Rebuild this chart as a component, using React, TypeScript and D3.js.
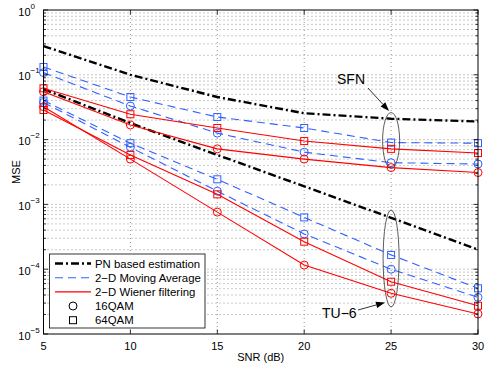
import React from 'react';
import * as d3 from 'd3';

const snr = [5, 10, 15, 20, 25, 30];
const xTicks = [5, 10, 15, 20, 25, 30];
const yDecades = [-5, -4, -3, -2, -1, 0];

const pnSFN = [0.278, 0.10, 0.0454, 0.0255, 0.021, 0.019];
const pnTU = [0.06, 0.018, 0.0058, 0.0019, 0.00062, 0.0002];
const maSFN16 = [0.108, 0.033, 0.0126, 0.0064, 0.0044, 0.0042];
const maSFN64 = [0.132, 0.0454, 0.0223, 0.0151, 0.009, 0.0088];
const wfSFN16 = [0.0548, 0.0168, 0.0072, 0.005, 0.0037, 0.0031];
const wfSFN64 = [0.0619, 0.0246, 0.0151, 0.0095, 0.0072, 0.0062];
const maTU16 = [0.0374, 0.0076, 0.0016, 0.00035, 0.0001, 0.0000368];
const maTU64 = [0.040, 0.0088, 0.00244, 0.00063, 0.000166, 0.0000507];
const wfTU16 = [0.0322, 0.005, 0.00076, 0.000116, 0.0000425, 0.0000204];
const wfTU64 = [0.0286, 0.0058, 0.00143, 0.000266, 0.0000641, 0.0000273];

const legendLabels = ['PN based estimation', '2\u2212D Moving Average', '2\u2212D Wiener filtering', '16QAM', '64QAM'];

const RED = '#ff0000';
const BLUE = '#3060ff';

const L = 43.5, R = 478, T = 10, B = 334;
const x = d3.scaleLinear().domain([5, 30]).range([L, R]);
const y = d3.scaleLog().domain([1e-5, 1]).range([B, T]);

type Series = { v: number[]; color: string; dash?: string; width: number; marker?: 'o' | 's' };
const series: Series[] = [
  { v: pnSFN, color: '#000', dash: '8,3,2,3', width: 2.4 },
  { v: pnTU, color: '#000', dash: '8,3,2,3', width: 2.4 },
  { v: maSFN64, color: BLUE, dash: '8,5', width: 1.1, marker: 's' },
  { v: maSFN16, color: BLUE, dash: '8,5', width: 1.1, marker: 'o' },
  { v: maTU64, color: BLUE, dash: '8,5', width: 1.1, marker: 's' },
  { v: maTU16, color: BLUE, dash: '8,5', width: 1.1, marker: 'o' },
  { v: wfSFN64, color: RED, width: 1.1, marker: 's' },
  { v: wfSFN16, color: RED, width: 1.1, marker: 'o' },
  { v: wfTU64, color: RED, width: 1.1, marker: 's' },
  { v: wfTU16, color: RED, width: 1.1, marker: 'o' },
];

function Marker({ cx, cy, kind, color }: { cx: number; cy: number; kind: 'o' | 's'; color: string }) {
  if (kind === 'o') return <circle cx={cx} cy={cy} r={4} fill="none" stroke={color} strokeWidth={1} />;
  return <rect x={cx - 3.5} y={cy - 3.5} width={7} height={7} fill="none" stroke={color} strokeWidth={1} />;
}

function Arrow({ x1, y1, x2, y2 }: { x1: number; y1: number; x2: number; y2: number }) {
  const ang = Math.atan2(y2 - y1, x2 - x1);
  const len = 9, w = 3.2;
  const bx = x2 - len * Math.cos(ang), by = y2 - len * Math.sin(ang);
  const px = -Math.sin(ang) * w, py = Math.cos(ang) * w;
  return (
    <g>
      <line x1={x1} y1={y1} x2={bx} y2={by} stroke="#000" strokeWidth={0.8} />
      <polygon points={`${x2},${y2} ${bx + px},${by + py} ${bx - px},${by - py}`} fill="#000" />
    </g>
  );
}

export default function App() {
  const line = d3.line<number>().x((_, i) => x(snr[i])).y((d) => y(d));
  const minor: number[] = [];
  const major: number[] = [];
  yDecades.forEach((e) => {
    major.push(Math.pow(10, e));
    if (e < 0) for (let k = 2; k <= 9; k++) minor.push(k * Math.pow(10, e));
  });
  const font = "'Liberation Sans', Arial, Helvetica, sans-serif";
  const legRows = [263.5, 277.7, 291.9, 306, 320.2];
  return (
    <svg width={485} height={365} style={{ position: 'fixed', left: 0, top: 0, background: '#fff' }} fontFamily={font}>
      <rect x={0} y={0} width={485} height={365} fill="#fff" />
      {/* grid */}
      <g stroke="#7a7a7a" strokeWidth={0.8} strokeDasharray="1,3">
        {xTicks.slice(1, -1).map((t) => (
          <line key={'gx' + t} x1={x(t)} x2={x(t)} y1={T} y2={B} />
        ))}
        {[...minor, ...major].filter((v) => v > 1e-5 && v < 1).map((v, i) => (
          <line key={'gy' + i} x1={L} x2={R} y1={y(v)} y2={y(v)} />
        ))}
      </g>
      {/* series */}
      {series.map((s, i) => (
        <g key={'s' + i}>
          <path d={line(s.v) || ''} fill="none" stroke={s.color} strokeWidth={s.width} strokeDasharray={s.dash} />
          {s.marker && s.v.map((v, j) => <Marker key={j} cx={x(snr[j])} cy={y(v)} kind={s.marker!} color={s.color} />)}
        </g>
      ))}
      {/* ellipses and annotations */}
      <ellipse cx={x(25)} cy={140.5} rx={8.5} ry={28} fill="none" stroke="#333" strokeWidth={0.8} />
      <ellipse cx={x(25)} cy={258.5} rx={8} ry={48.5} fill="none" stroke="#333" strokeWidth={0.8} />
      <text x={337} y={84} fontSize={14} fill="#000">SFN</text>
      <Arrow x1={368} y1={88} x2={389} y2={111} />
      <text x={322} y={317.5} fontSize={14} fill="#000">TU{'\u2212'}6</text>
      <Arrow x1={358} y1={310} x2={385} y2={302.5} />
      {/* frame + ticks */}
      <g stroke="#000" strokeWidth={0.8}>
        {xTicks.map((t) => (
          <g key={'tx' + t}>
            <line x1={x(t)} x2={x(t)} y1={B} y2={B - 4.5} />
            <line x1={x(t)} x2={x(t)} y1={T} y2={T + 4.5} />
          </g>
        ))}
        {major.map((v, i) => (
          <g key={'ty' + i}>
            <line x1={L} x2={L + 4.5} y1={y(v)} y2={y(v)} />
            <line x1={R} x2={R - 4.5} y1={y(v)} y2={y(v)} />
          </g>
        ))}
        {minor.map((v, i) => (
          <g key={'tm' + i}>
            <line x1={L} x2={L + 2.5} y1={y(v)} y2={y(v)} />
            <line x1={R} x2={R - 2.5} y1={y(v)} y2={y(v)} />
          </g>
        ))}
        <rect x={L} y={T} width={R - L} height={B - T} fill="none" strokeWidth={1} />
      </g>
      {/* tick labels */}
      {xTicks.map((t) => (
        <text key={'lx' + t} x={x(t)} y={349.5} fontSize={11} textAnchor="middle" fill="#000">{t}</text>
      ))}
      {yDecades.map((e) => (
        <text key={'ly' + e} x={18.3} y={y(Math.pow(10, e)) + 5.5} fontSize={11} fill="#000">
          10
          <tspan fontSize={8} dy={-7}>{e === 0 ? '0' : '\u2212' + Math.abs(e)}</tspan>
        </text>
      ))}
      <text x={(L + R) / 2} y={361} fontSize={11} textAnchor="middle" fill="#000">SNR (dB)</text>
      <text transform={`translate(19.5,172) rotate(-90)`} fontSize={11} textAnchor="middle" fill="#000">MSE</text>
      {/* legend */}
      <rect x={49.5} y={254} width={155.5} height={74} fill="#fff" stroke="#000" strokeWidth={0.8} />
      <line x1={55} x2={91} y1={legRows[0]} y2={legRows[0]} stroke="#000" strokeWidth={2.4} strokeDasharray="8,3,2,3" />
      <line x1={55} x2={91} y1={legRows[1]} y2={legRows[1]} stroke={BLUE} strokeWidth={1.1} strokeDasharray="8,5" />
      <line x1={55} x2={91} y1={legRows[2]} y2={legRows[2]} stroke={RED} strokeWidth={1.1} />
      <Marker cx={73} cy={legRows[3]} kind="o" color="#000" />
      <Marker cx={73} cy={legRows[4]} kind="s" color="#000" />
      {legendLabels.map((lab, i) => (
        <text key={'lg' + i} x={95} y={legRows[i] + 4.2} fontSize={11.4} fill="#000">{lab}</text>
      ))}
    </svg>
  );
}
